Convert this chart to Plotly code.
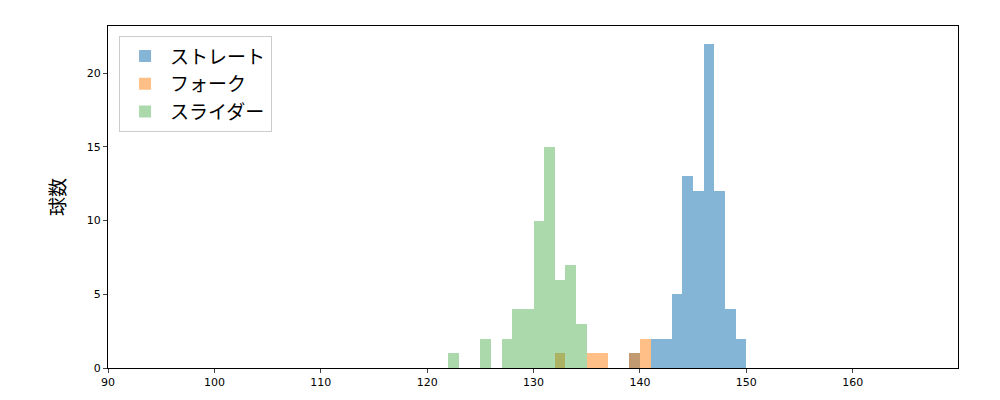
import numpy as np
import plotly.graph_objects as go

# bin starts (km/h, width 1) and counts
straight_bins = list(range(139, 150))
straight_counts = [1, 0, 2, 2, 5, 13, 12, 22, 12, 4, 2]
fork_bins = list(range(132, 141))
fork_counts = [1, 0, 0, 1, 1, 0, 0, 1, 2]
slider_bins = list(range(122, 135))
slider_counts = [1, 0, 0, 2, 0, 2, 4, 4, 10, 15, 6, 7, 3]

series = [("ストレート", straight_bins, straight_counts, "rgba(31,119,180,0.55)"),
          ("フォーク", fork_bins, fork_counts, "rgba(255,127,14,0.5)"),
          ("スライダー", slider_bins, slider_counts, "rgba(44,160,44,0.4)")]

fig = go.Figure()
for name, bins, counts, color in series:
    fig.add_trace(go.Bar(x=np.array(bins) + 0.5, y=counts, width=1, name=name,
                         marker=dict(color=color, line=dict(width=0))))

fig.update_layout(
    barmode="overlay", bargap=0, width=1000, height=400, plot_bgcolor="white", paper_bgcolor="white",
    margin=dict(l=100, r=50, t=18, b=40, autoexpand=False),
    font=dict(family="DejaVu Sans", size=11, color="black"),
    legend=dict(x=0.013, y=0.97, xanchor="left", yanchor="top",
                font=dict(size=19, family="Noto Sans CJK JP"), itemwidth=40,
                bordercolor="#cccccc", borderwidth=1, bgcolor="white"),
)
fig.update_xaxes(range=[90, 169.9], dtick=10, showgrid=False, showline=True, linecolor="black",
                 mirror=True, ticks="outside", ticklen=4, zeroline=False)
fig.update_yaxes(range=[0, 23.2], tickvals=[0, 5, 10, 15, 20], showgrid=False, showline=True,
                 linecolor="black", mirror=True, ticks="outside", ticklen=4, zeroline=False,
                 title=dict(text="球数", font=dict(size=19, family="Noto Sans CJK JP"), standoff=16))
fig.write_html("out.html")
